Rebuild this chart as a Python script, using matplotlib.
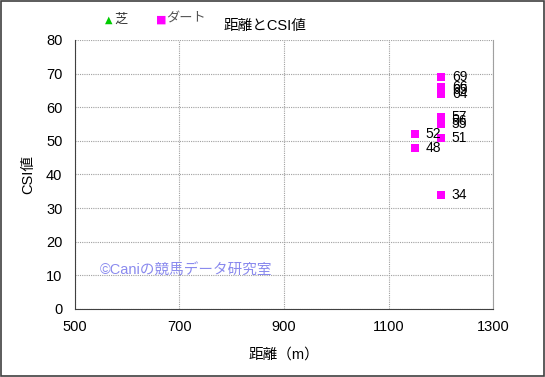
import matplotlib
matplotlib.use("Agg")
import matplotlib.pyplot as plt
from matplotlib.patches import Rectangle

plt.rcParams['font.family'] = ['Liberation Sans', 'Noto Sans CJK JP', 'DejaVu Sans']

turf_x = []
turf_y = []
dirt_x = [1150, 1150, 1200, 1200, 1200, 1200, 1200, 1200, 1200, 1200, 1200]
dirt_y = [52, 48, 69, 66, 65, 64, 57, 56, 55, 51, 34]

xticks = [500, 700, 900, 1100, 1300]
yticks = [0, 10, 20, 30, 40, 50, 60, 70, 80]

fig = plt.figure(figsize=(5.45, 3.77), dpi=100)
fig.patches.append(Rectangle((0.002, 0.003), 0.996, 0.994, transform=fig.transFigure,
                             fill=False, edgecolor='#404040', linewidth=1.2))
ax = fig.add_axes([0.1376, 0.1804, 0.767, 0.7135])
ax.scatter(turf_x, turf_y, marker='^', color='#00cc00', s=30)
ax.scatter(dirt_x, dirt_y, marker='s', color='#ff00ff', s=40, linewidths=0)
for x, y in zip(dirt_x, dirt_y):
    ax.annotate(str(y), (x, y), xytext=(8, 0), textcoords='offset points',
                va='center', ha='left', fontsize=10, color='black')

ax.set_xlim(500, 1300)
ax.set_ylim(0, 80)
ax.set_xticks(xticks)
ax.set_yticks(yticks)
ax.tick_params(length=0, labelsize=10.5)
ax.tick_params(axis='y', pad=9)
ax.tick_params(axis='x', pad=8)
ax.grid(True, color='#a0a0a0', linestyle=(0, (1, 1)), linewidth=0.8)
ax.set_axisbelow(True)
ax.spines['top'].set_visible(False)
ax.spines['right'].set_color('#a0a0a0')
ax.spines['left'].set_color('#404040')
ax.spines['bottom'].set_color('#404040')
ax.set_xlabel('距離（m）', fontsize=10.5, labelpad=10)
ax.set_ylabel('CSI値', fontsize=10.5, labelpad=8)

fig.text(0.487, 0.93, '距離とCSI値', ha='center', va='center', fontsize=10.5)
fig.text(0.2, 0.948, '▲', color='#00cc00', ha='center', va='center', fontsize=7,
         family=['DejaVu Sans'])
fig.text(0.21, 0.948, '芝', ha='left', va='center', fontsize=9.5, color='#333333')
fig.text(0.295, 0.948, '■', color='#ff00ff', ha='center', va='center', fontsize=8,
         family=['DejaVu Sans'])
fig.text(0.305, 0.948, 'ダート', ha='left', va='center', fontsize=9.5, color='#555555')
ax.text(0.06, 0.143, '©Caniの競馬データ研究室', transform=ax.transAxes,
        color='#8a8aee', fontsize=10.5, ha='left', va='center')

fig.savefig('out.png', dpi=100)
